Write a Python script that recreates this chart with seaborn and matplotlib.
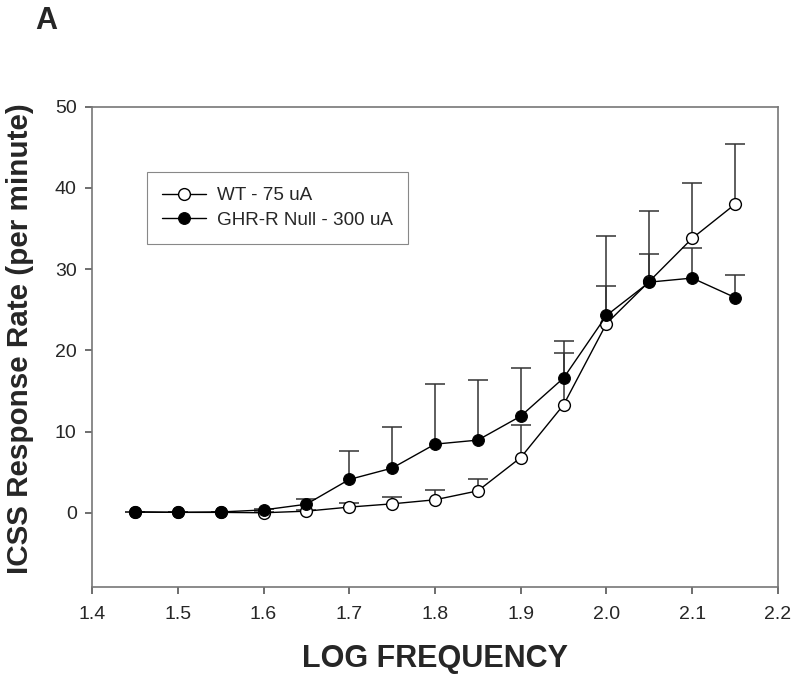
import matplotlib
matplotlib.use("Agg")
import matplotlib.pyplot as plt
import seaborn as sns
import pandas as pd

# log stimulation frequency
freq = [1.45, 1.50, 1.55, 1.60, 1.65, 1.70, 1.75, 1.80, 1.85, 1.90, 1.95, 2.00, 2.05, 2.10, 2.15]

# WT - 75 uA
wt_mean = [0.1, 0.05, 0.05, 0.0, 0.2, 0.7, 1.1, 1.6, 2.7, 6.8, 13.3, 23.3, 28.5, 33.8, 38.0]
wt_sem = [0.05, 0.05, 0.05, 0.05, 0.2, 0.5, 0.9, 1.15, 1.5, 4.0, 6.4, 4.6, 3.4, 6.8, 7.4]

# GHR-R Null - 300 uA
ghr_mean = [0.1, 0.05, 0.1, 0.35, 1.05, 4.1, 5.5, 8.45, 8.95, 11.9, 16.6, 24.3, 28.4, 28.9, 26.5]
ghr_sem = [0.05, 0.05, 0.05, 0.1, 0.65, 3.45, 5.05, 7.35, 7.35, 5.9, 4.6, 9.8, 8.8, 3.7, 2.8]

wt_label = "WT - 75 uA"
ghr_label = "GHR-R Null - 300 uA"

df = pd.DataFrame({
    "freq": freq * 2,
    "rate": wt_mean + ghr_mean,
    "group": [wt_label] * len(freq) + [ghr_label] * len(freq),
})

sns.set_style("ticks")
plt.rcParams["font.family"] = ["Liberation Sans", "DejaVu Sans"]

fig = plt.figure(figsize=(8, 6.81), dpi=100)
ax = fig.add_axes([0.115, 0.1385, 0.8575, 0.7048])

# upper error bars only (drop the lower cap)
for mean, sem in [(wt_mean, wt_sem), (ghr_mean, ghr_sem)]:
    _, caps, _ = ax.errorbar(freq, mean, yerr=[[0] * len(freq), sem], fmt="none",
                             ecolor="#333333", elinewidth=1.1, capsize=7,
                             capthick=1.1, zorder=1)
    caps[0].set_visible(False)

sns.lineplot(data=df[df.group == wt_label], x="freq", y="rate", ax=ax,
             color="black", lw=1, marker="o", markersize=8.5,
             markerfacecolor="white", markeredgecolor="black", markeredgewidth=1,
             label=wt_label, zorder=3)
sns.lineplot(data=df[df.group == ghr_label], x="freq", y="rate", ax=ax,
             color="black", lw=1, marker="o", markersize=8.5,
             markerfacecolor="black", markeredgecolor="black",
             label=ghr_label, zorder=4)

ax.set_xlim(1.4, 2.2)
ax.set_ylim(-9.1, 50)
ax.set_xticks([1.4, 1.5, 1.6, 1.7, 1.8, 1.9, 2.0, 2.1, 2.2])
ax.set_xticklabels(["1.4", "1.5", "1.6", "1.7", "1.8", "1.9", "2.0", "2.1", "2.2"])
ax.set_yticks([0, 10, 20, 30, 40, 50])

for sp in ax.spines.values():
    sp.set_color("#777777")
    sp.set_linewidth(1.2)
ax.tick_params(axis="both", direction="out", length=5, width=1.2, color="#555555",
               labelsize=14)
ax.tick_params(axis="x", pad=9)
ax.tick_params(axis="y", pad=6)

ax.set_xlabel("LOG FREQUENCY", fontsize=22, fontweight="bold")
ax.xaxis.label.set_verticalalignment("center")
ax.xaxis.set_label_coords(0.5, -0.151)
ax.set_ylabel("ICSS Response Rate (per minute)", fontsize=21.3, fontweight="bold")
ax.yaxis.label.set_verticalalignment("center")
ax.yaxis.set_label_coords(-0.105, 0.516)

leg = ax.legend(loc="upper left", bbox_to_anchor=(147 / 800, 1 - 172 / 681),
                bbox_transform=fig.transFigure, borderaxespad=0, fancybox=False,
                framealpha=1, edgecolor="#888888", fontsize=13.6, handlelength=2.3,
                borderpad=0.8, labelspacing=0.4, handletextpad=0.6)
leg.get_frame().set_linewidth(0.8)

fig.text(46 / 800, 1 - 21 / 681, "A", fontsize=22, fontweight="bold",
         ha="center", va="center")

fig.savefig("out.png", dpi=100)
